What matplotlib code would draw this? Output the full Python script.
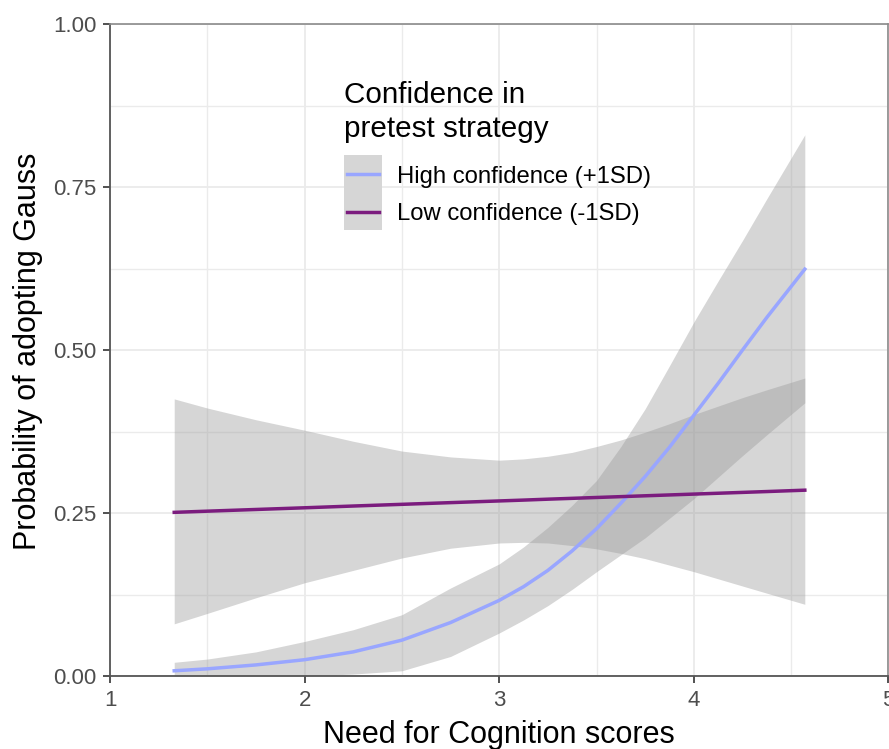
import matplotlib
matplotlib.use("Agg")
import matplotlib.pyplot as plt
from matplotlib.lines import Line2D
from matplotlib.patches import Rectangle
from matplotlib.ticker import MultipleLocator

plt.rcParams["font.family"] = ["Liberation Sans", "DejaVu Sans"]

ncog = [1.33, 1.5, 1.75, 2.0, 2.25, 2.5, 2.75, 3.0, 3.125, 3.25, 3.375, 3.5,
        3.625, 3.75, 3.875, 4.0, 4.125, 4.25, 4.375, 4.57]

# high confidence (+1SD)
high_fit = [0.008, 0.011, 0.017, 0.025, 0.037, 0.055, 0.082, 0.116, 0.137, 0.162,
            0.192, 0.226, 0.265, 0.306, 0.351, 0.400, 0.449, 0.500, 0.550, 0.624]
high_upper = [0.021, 0.026, 0.037, 0.053, 0.071, 0.094, 0.135, 0.172, 0.198, 0.228,
              0.262, 0.300, 0.352, 0.410, 0.476, 0.543, 0.606, 0.668, 0.732, 0.830]
high_lower = [0.0, 0.0, 0.0, 0.0, 0.003, 0.008, 0.030, 0.066, 0.086, 0.108,
              0.133, 0.160, 0.186, 0.212, 0.242, 0.272, 0.305, 0.338, 0.370, 0.419]

# low confidence (-1SD)
low_fit = [0.2510, 0.2528, 0.2554, 0.2580, 0.2607, 0.2633, 0.2659, 0.2685, 0.2698, 0.2712,
           0.2725, 0.2738, 0.2751, 0.2764, 0.2777, 0.2790, 0.2803, 0.2816, 0.2829, 0.2850]
low_upper = [0.425, 0.411, 0.393, 0.377, 0.360, 0.345, 0.336, 0.331, 0.333, 0.337,
             0.343, 0.352, 0.362, 0.374, 0.387, 0.401, 0.414, 0.427, 0.439, 0.457]
low_lower = [0.080, 0.096, 0.120, 0.143, 0.162, 0.181, 0.196, 0.204, 0.205, 0.204,
             0.200, 0.195, 0.188, 0.180, 0.170, 0.160, 0.149, 0.138, 0.127, 0.110]

legend_title = "Confidence in\npretest strategy"
labels = ["High confidence (+1SD)", "Low confidence (-1SD)"]
colors = ["#99a6ff", "#7b1c7e"]

W, H = 889, 749
fig = plt.figure(figsize=(W / 100, H / 100), dpi=100)
ax = fig.add_axes([110 / W, (H - 676) / H, 778.5 / W, 652 / H])


def px(x, y):
    # pixel position from the top-left corner -> figure fraction
    return x / W, 1 - y / H


ribbon = dict(color="#999999", alpha=0.4, linewidth=0, zorder=2)
ax.fill_between(ncog, high_lower, high_upper, **ribbon)
ax.fill_between(ncog, low_lower, low_upper, **ribbon)
ax.plot(ncog, high_fit, color=colors[0], lw=2.5, zorder=3)
ax.plot(ncog, low_fit, color=colors[1], lw=2.5, zorder=3)

ax.set_xlim(1, 5)
ax.set_ylim(0, 1)
ax.xaxis.set_major_locator(MultipleLocator(1))
ax.xaxis.set_minor_locator(MultipleLocator(0.5))
ax.yaxis.set_major_locator(MultipleLocator(0.25))
ax.yaxis.set_minor_locator(MultipleLocator(0.125))
ax.yaxis.set_major_formatter(lambda v, p: f"{v:.2f}")

ax.set_axisbelow(True)
ax.grid(which="major", color="#ebebeb", lw=1.3)
ax.grid(which="minor", color="#ebebeb", lw=1.0)
ax.tick_params(which="minor", length=0)
ax.tick_params(which="major", length=4.8, width=1.2, color="#333333",
               labelsize=16, labelcolor="#4d4d4d", pad=5)

for side in ["left", "bottom"]:
    ax.spines[side].set_color("#555555")
    ax.spines[side].set_linewidth(1.3)
for side in ["top", "right"]:
    ax.spines[side].set_color("#8a8a8a")
    ax.spines[side].set_linewidth(1.2)

# axis titles
fig.text(*px(499, 743), "Need for Cognition scores", fontsize=22,
         ha="center", va="baseline")
fig.text(*px(28, 351), "Probability of adopting Gauss", fontsize=22,
         ha="center", va="center", rotation=90)

# legend, drawn by hand so the key backgrounds touch like in ggplot
title_lines = legend_title.split("\n")
fig.text(*px(344, 103), title_lines[0], fontsize=21.3, va="baseline")
fig.text(*px(344, 137), title_lines[1], fontsize=21.3, va="baseline")
x0, y0 = px(344, 230)
fig.add_artist(Rectangle((x0, y0), 38 / W, 75 / H, transform=fig.transFigure,
                         facecolor="#d6d6d6", edgecolor="none"))
for i, (lab, c) in enumerate(zip(labels, colors)):
    yk = 174 + 37.5 * i
    xa, ya = px(347, yk)
    xb, _ = px(379, yk)
    fig.add_artist(Line2D([xa, xb], [ya, ya], transform=fig.transFigure,
                          color=c, lw=2.5))
    fig.text(*px(397, yk + 8.5), lab, fontsize=17.2, va="baseline")

fig.savefig("out.png", dpi=100)
